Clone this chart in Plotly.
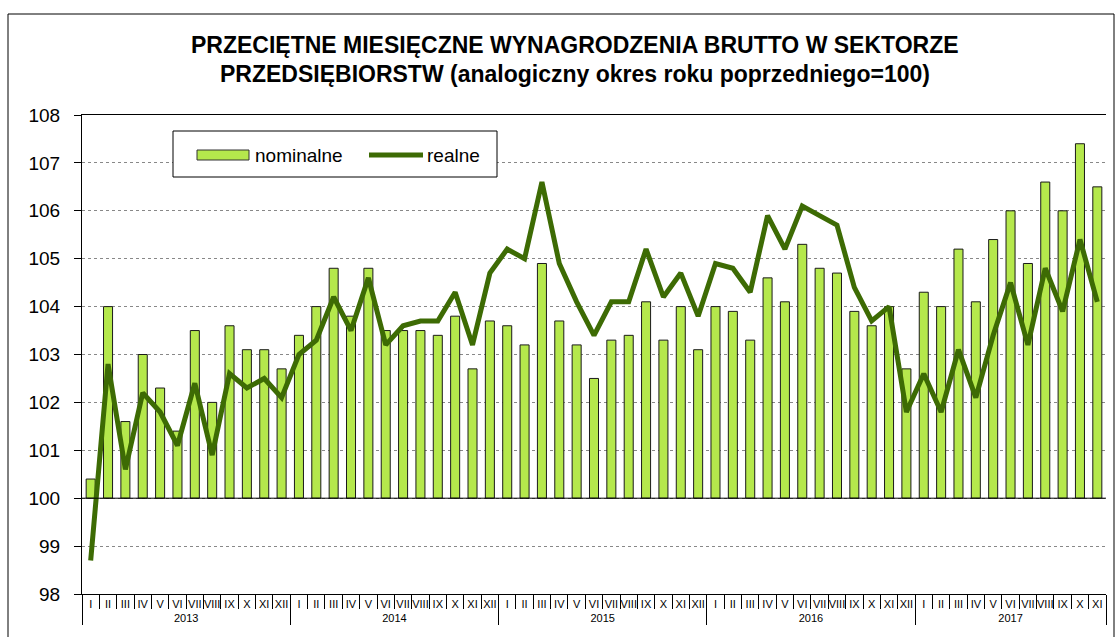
import plotly.graph_objects as go

years = ["2013", "2014", "2015", "2016", "2017"]
months = ["I", "II", "III", "IV", "V", "VI", "VII", "VIII", "IX", "X", "XI", "XII"]

nominalne = [
    100.4, 104.0, 101.6, 103.0, 102.3, 101.4, 103.5, 102.0, 103.6, 103.1, 103.1, 102.7,
    103.4, 104.0, 104.8, 103.8, 104.8, 103.5, 103.5, 103.5, 103.4, 103.8, 102.7, 103.7,
    103.6, 103.2, 104.9, 103.7, 103.2, 102.5, 103.3, 103.4, 104.1, 103.3, 104.0, 103.1,
    104.0, 103.9, 103.3, 104.6, 104.1, 105.3, 104.8, 104.7, 103.9, 103.6, 104.0, 102.7,
    104.3, 104.0, 105.2, 104.1, 105.4, 106.0, 104.9, 106.6, 106.0, 107.4, 106.5,
]
realne = [
    98.7, 102.8, 100.6, 102.2, 101.8, 101.1, 102.4, 100.9, 102.6, 102.3, 102.5, 102.1,
    103.0, 103.3, 104.2, 103.5, 104.6, 103.2, 103.6, 103.7, 103.7, 104.3, 103.2, 104.7,
    105.2, 105.0, 106.6, 104.9, 104.1, 103.4, 104.1, 104.1, 105.2, 104.2, 104.7, 103.8,
    104.9, 104.8, 104.3, 105.9, 105.2, 106.1, 105.9, 105.7, 104.4, 103.7, 104.0, 101.8,
    102.6, 101.8, 103.1, 102.1, 103.4, 104.5, 103.2, 104.8, 103.9, 105.4, 104.1,
]
base_value = 100
title_lines = [
    "PRZECIĘTNE MIESIĘCZNE WYNAGRODZENIA BRUTTO W SEKTORZE",
    "PRZEDSIĘBIORSTW (analogiczny okres roku poprzedniego=100)",
]

BAR_COLOR = "#b5e84c"
LINE_COLOR = "#3d6b04"
FONT = "Liberation Sans, Arial, sans-serif"

# plot area in pixels
PL, PR, PT, PB = 82, 1106, 115, 594


def px(xp):
    return (xp - PL) / (PR - PL)


def py(yp):
    return (PB - yp) / (PB - PT)


n = len(nominalne)
x_year = [years[i // 12] for i in range(n)]
x_month = [months[i % 12] for i in range(n)]

fig = go.Figure()
fig.add_trace(go.Bar(
    x=[x_year, x_month],
    y=[v - base_value for v in nominalne],
    base=base_value,
    name="nominalne",
    marker=dict(color=BAR_COLOR, line=dict(color="#1a1a1a", width=1)),
    width=0.52,
    hoverinfo="skip",
))
fig.add_trace(go.Scatter(
    x=[x_year, x_month],
    y=realne,
    name="realne",
    mode="lines",
    line=dict(color=LINE_COLOR, width=5),
))

fig.update_layout(
    width=1116, height=637,
    paper_bgcolor="white", plot_bgcolor="white",
    margin=dict(l=PL, r=1116 - PR, t=PT, b=637 - PB, autoexpand=False),
    font=dict(family=FONT, color="black"),
    showlegend=False,
)
fig.update_yaxes(
    range=[98, 108], dtick=1, tickfont=dict(size=19),
    showgrid=True, gridcolor="#888888", griddash="dot", gridwidth=1,
    showline=True, linecolor="black", linewidth=1,
    ticks="outside", ticklen=7, tickcolor="black", ticklabelstandoff=10,
    zeroline=False, automargin=False,
)
fig.update_xaxes(
    type="multicategory",
    tickfont=dict(size=11), tickangle=0,
    showline=True, linecolor="black", linewidth=1, mirror=True,
    ticks="outside", tickson="boundaries", ticklen=14, tickcolor="black",
    showdividers=True, dividercolor="black", dividerwidth=1,
    showgrid=False, automargin=False,
)

# baseline at 100
fig.add_shape(type="line", xref="paper", yref="y", x0=0, x1=1, y0=base_value, y1=base_value,
              line=dict(color="black", width=1))
# outer chart border
fig.add_shape(type="rect", xref="paper", yref="paper",
              x0=px(8), x1=px(1114), y0=py(640), y1=py(14),
              line=dict(color="black", width=1))

# title
for line_text, yc in zip(title_lines, [45, 74]):
    fig.add_annotation(text="<b>" + line_text + "</b>", xref="paper", yref="paper",
                       x=px(575), y=py(yc), xanchor="center", yanchor="middle",
                       showarrow=False, font=dict(size=23, family=FONT))

# legend (drawn manually to mimic the wide bar swatch)
fig.add_shape(type="rect", xref="paper", yref="paper",
              x0=px(173), x1=px(497), y0=py(177), y1=py(131),
              line=dict(color="black", width=1), fillcolor="white", layer="above")
fig.add_shape(type="rect", xref="paper", yref="paper",
              x0=px(197), x1=px(249), y0=py(160), y1=py(150),
              line=dict(color="#333333", width=1), fillcolor=BAR_COLOR, layer="above")
fig.add_shape(type="line", xref="paper", yref="paper",
              x0=px(369), x1=px(423), y0=py(155), y1=py(155),
              line=dict(color=LINE_COLOR, width=5), layer="above")
fig.add_annotation(text="nominalne", xref="paper", yref="paper", x=px(253), y=py(155),
                   xanchor="left", yanchor="middle", showarrow=False, font=dict(size=19))
fig.add_annotation(text="realne", xref="paper", yref="paper", x=px(425), y=py(155),
                   xanchor="left", yanchor="middle", showarrow=False, font=dict(size=19))

fig.write_html("out.html", config={"displayModeBar": False},
               post_script="document.body.style.margin='0';document.body.style.padding='0';")
